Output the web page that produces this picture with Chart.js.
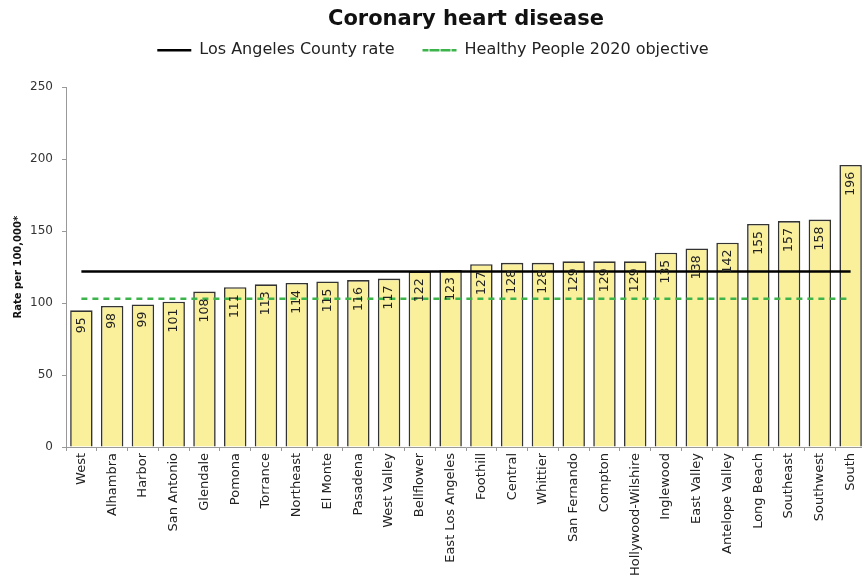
<!DOCTYPE html>
<html><head><meta charset="utf-8">
<script src="https://cdn.jsdelivr.net/npm/chart.js@4/dist/chart.umd.min.js"></script>
<style>html,body{margin:0;padding:0;background:#fff;overflow:hidden}#wrap{width:862px;height:581px;overflow:hidden}</style>
</head><body><div id="wrap"><canvas id="c" width="866" height="581"></canvas></div>
<script>
const categories = ["West","Alhambra","Harbor","San Antonio","Glendale","Pomona","Torrance","Northeast","El Monte","Pasadena","West Valley","Bellflower","East Los Angeles","Foothill","Central","Whittier","San Fernando","Compton","Hollywood-Wilshire","Inglewood","East Valley","Antelope Valley","Long Beach","Southeast","Southwest","South"];
const rates = [95,98,99,101,108,111,113,114,115,116,117,122,123,127,128,128,129,129,129,135,138,142,155,157,158,196];
const countyRate = 122;
const hp2020Objective = 103;
const yTicks = [0,50,100,150,200,250];

const FONT = "'DejaVu Sans', Verdana, sans-serif";

const barLabels = {
  id: 'barLabels',
  afterDatasetsDraw(chart) {
    const meta = chart.getDatasetMeta(2);
    const ctx = chart.ctx;
    ctx.save();
    ctx.font = "12.5px " + FONT;
    ctx.fillStyle = "#222";
    ctx.textAlign = "right";
    ctx.textBaseline = "middle";
    meta.data.forEach((bar, i) => {
      ctx.save();
      ctx.translate(bar.x, bar.y + 7);
      ctx.rotate(-Math.PI / 2);
      ctx.fillText(String(rates[i]), 0, 0);
      ctx.restore();
    });
    ctx.restore();
  }
};

const legendSpace = {
  id: 'legendSpace',
  beforeUpdate(chart) {
    const lg = chart.legend;
    if (lg && !lg._patched) {
      const fit = lg.fit;
      lg.fit = function () { fit.call(this); this.height += 19; };
      lg._patched = true;
    }
  }
};

new Chart(document.getElementById('c'), {
  type: 'bar',
  data: {
    labels: categories,
    datasets: [
      {
        type: 'line', label: 'Los Angeles County rate',
        data: categories.map(() => countyRate),
        borderColor: '#000', backgroundColor: '#000', borderWidth: 2.5, pointRadius: 0, fill: false, order: 0
      },
      {
        type: 'line', label: 'Healthy People 2020 objective',
        data: categories.map(() => hp2020Objective),
        borderColor: '#3cb44b', backgroundColor: '#3cb44b', borderWidth: 2.5, borderDash: [6, 5], pointRadius: 0, fill: false, order: 0
      },
      {
        type: 'bar', label: 'Rate',
        data: rates,
        backgroundColor: '#faf09c', borderColor: '#333', borderWidth: 1.6,
        barPercentage: 0.73, categoryPercentage: 1.0, order: 5
      }
    ]
  },
  options: {
    responsive: false, animation: false,
    devicePixelRatio: 1,
    layout: { padding: { left: 0, right: 0, top: 0, bottom: 0 } },
    plugins: {
      title: {
        display: true, text: 'Coronary heart disease', color: '#111', fullSize: false,
        font: { family: FONT, size: 21, weight: 'bold' }, padding: { top: 7, bottom: -18 }
      },
      legend: {
        display: true,
        labels: {
          filter: (item) => item.datasetIndex < 2,
          color: '#222', font: { family: FONT, size: 16 },
          boxWidth: 34, boxHeight: 0, padding: 28
        }
      },
      tooltip: { enabled: false }
    },
    scales: {
      x: {
        grid: { display: true, drawOnChartArea: false, drawTicks: true, tickLength: 4, color: '#999' },
        border: { color: '#999', width: 1 },
        ticks: { color: '#222', font: { family: FONT, size: 13 }, maxRotation: 90, minRotation: 90, autoSkip: false, padding: 2 },
        afterFit(s) { s.height = 134; s.paddingLeft = 0; s.paddingRight = 0; }
      },
      y: {
        min: 0, max: 250,
        afterBuildTicks(s) { s.ticks = yTicks.map(v => ({ value: v })); },
        grid: { display: true, drawOnChartArea: false, drawTicks: true, tickLength: 4, color: '#999' },
        border: { color: '#999', width: 1 },
        ticks: { color: '#333', font: { family: FONT, size: 12 }, padding: 9 },
        title: { display: true, text: 'Rate per 100,000*', color: '#111', font: { family: FONT, size: 10, weight: 'bold' }, padding: { top: 12, bottom: 2 } },
        afterFit(s) { s.width = 66; }
      }
    }
  },
  plugins: [barLabels, legendSpace]
});
</script></body></html>
